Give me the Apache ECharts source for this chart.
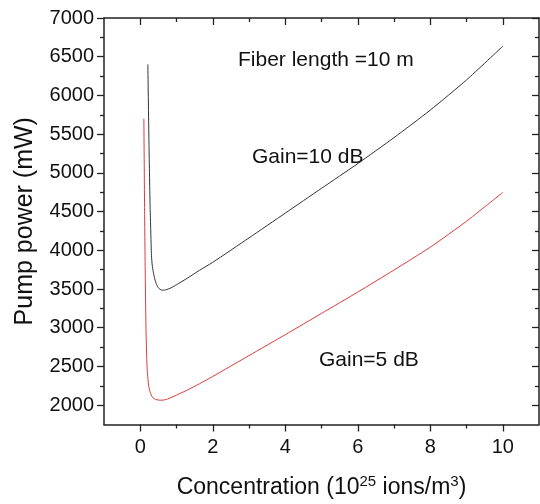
<!DOCTYPE html>
<html>
<head>
<meta charset="utf-8">
<script src="https://cdn.jsdelivr.net/npm/echarts@6/dist/echarts.min.js"></script>
<style>
html,body{margin:0;padding:0;background:#fff;}
#c{width:540px;height:504px;}
</style>
</head>
<body>
<div id="c"></div>
<script>
// Gain = 10 dB (black)
const concGain10 = [0.21, 0.24, 0.27, 0.29, 0.31, 0.33, 0.36, 0.40, 0.45, 0.50, 0.60, 0.70, 0.85, 1.0, 1.3, 1.63, 2, 3, 4, 5, 6, 7, 8, 9, 10];
const powerGain10 = [6400, 5400, 4600, 4250, 3930, 3810, 3720, 3630, 3560, 3515, 3485, 3488, 3515, 3555, 3640, 3740, 3845, 4160, 4480, 4800, 5120, 5455, 5810, 6200, 6635];
// Gain = 5 dB (red)
const concGain5 = [0.10, 0.12, 0.14, 0.16, 0.18, 0.20, 0.23, 0.27, 0.30, 0.35, 0.42, 0.50, 0.60, 0.75, 1.0, 1.3, 1.63, 2, 3, 4, 5, 6, 7, 8, 9, 10];
const powerGain5 = [5700, 4500, 3600, 2950, 2600, 2400, 2260, 2170, 2133, 2095, 2075, 2066, 2064, 2078, 2130, 2195, 2275, 2370, 2640, 2910, 3185, 3460, 3745, 4040, 4375, 4747];

const xMajorTicks = [0, 2, 4, 6, 8, 10];
const xMinorTicks = [1, 3, 5, 7, 9];
const yMajorTicks = [2000, 2500, 3000, 3500, 4000, 4500, 5000, 5500, 6000, 6500, 7000];
const yMinorTicks = [2250, 2750, 3250, 3750, 4250, 4750, 5250, 5750, 6250, 6750];

const xRange = [-1, 11];
const yRange = [1750, 7000];

const annotations = [
  {text: 'Fiber length =10 m', x: 238, y: 50},
  {text: 'Gain=10 dB', x: 252, y: 147},
  {text: 'Gain=5 dB', x: 319, y: 350}
];

const FONT = '"Liberation Sans", Arial, sans-serif';
const AX = '#222';

function pair(xs, ys){ return xs.map((x,i)=>[x, ys[i]]); }
const plain = v => String(v);

function xAxisDef(pos, vals, len, inside, main){
  return {
    type: 'value', position: pos, min: xRange[0], max: xRange[1],
    axisLine: {show: main, onZero: false, lineStyle: {color: AX, width: 1.5}},
    axisTick: {show: true, inside: inside, length: len, customValues: vals, lineStyle: {color: AX, width: 1.3}},
    axisLabel: main && pos === 'bottom' ? {show: true, customValues: xMajorTicks, formatter: plain, fontSize: 20, color: '#111', fontFamily: FONT, margin: 13} : {show: false},
    splitLine: {show: false}
  };
}
function yAxisDef(pos, vals, len, inside, main){
  return {
    type: 'value', position: pos, min: yRange[0], max: yRange[1],
    axisLine: {show: main, onZero: false, lineStyle: {color: AX, width: 1.5}},
    axisTick: {show: true, inside: inside, length: len, customValues: vals, lineStyle: {color: AX, width: 1.3}},
    axisLabel: main && pos === 'left' ? {show: true, customValues: yMajorTicks, formatter: plain, fontSize: 20, color: '#111', fontFamily: FONT, margin: 10} : {show: false},
    splitLine: {show: false}
  };
}

const xAxes = [
  xAxisDef('bottom', xMajorTicks, 7, false, true),
  xAxisDef('bottom', xMinorTicks, 4, false, false),
  xAxisDef('top', xMajorTicks, 7, true, true),
  xAxisDef('top', xMinorTicks, 4, true, false)
];
xAxes[0].name = '{n|Concentration (10}{s|25}{n| ions/m}{s|3}{n|)}';
xAxes[0].nameLocation = 'middle';
xAxes[0].nameGap = 50;
xAxes[0].nameTextStyle = {
  rich: {
    n: {fontSize: 23, fontFamily: FONT, color: '#111', lineHeight: 26},
    s: {fontSize: 15, fontFamily: FONT, color: '#111', lineHeight: 16, verticalAlign: 'top'}
  }
};

const yAxes = [
  yAxisDef('left', yMajorTicks, 7, false, true),
  yAxisDef('left', yMinorTicks, 4, false, false),
  yAxisDef('right', yMajorTicks, 7, true, true),
  yAxisDef('right', yMinorTicks, 4, true, false)
];
yAxes[0].name = 'Pump power (mW)';
yAxes[0].nameLocation = 'middle';
yAxes[0].nameGap = 66;
yAxes[0].nameTextStyle = {fontSize: 25, fontFamily: FONT, color: '#111'};

const chart = echarts.init(document.getElementById('c'), null, {renderer: 'canvas'});
chart.setOption({
  animation: false,
  backgroundColor: '#fff',
  grid: {left: 104, right: 1, top: 18, bottom: 78, containLabel: false},
  xAxis: xAxes,
  yAxis: yAxes,
  graphic: annotations.map(a => ({
    type: 'text', left: a.x, top: a.y, style: {text: a.text, fontSize: 21, fontFamily: FONT, fill: '#111', verticalAlign: 'middle'}
  })),
  series: [
    {type: 'line', xAxisIndex: 0, yAxisIndex: 0, data: pair(concGain10, powerGain10), showSymbol: false, smooth: 0.2,
     lineStyle: {color: '#333', width: 1}},
    {type: 'line', xAxisIndex: 0, yAxisIndex: 0, data: pair(concGain5, powerGain5), showSymbol: false, smooth: 0.2,
     lineStyle: {color: '#dd3b3b', width: 1}}
  ]
});
</script>
</body>
</html>
